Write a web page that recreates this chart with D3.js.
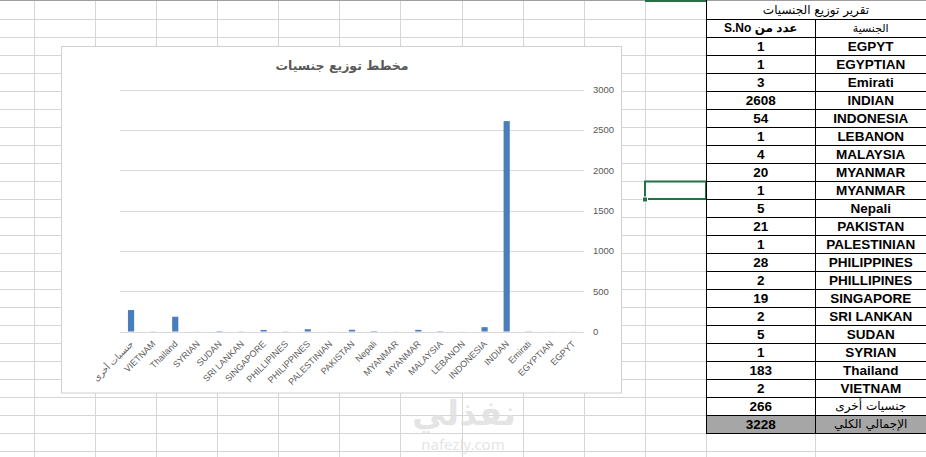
<!DOCTYPE html>
<html><head><meta charset="utf-8">
<script src="https://cdn.jsdelivr.net/npm/d3@7"></script>
<style>
html,body{margin:0;padding:0;background:#fff;}
svg{display:block;}
</style></head>
<body>
<script>
// ---- data (table order) ----
const categories = ["EGPYT","EGYPTIAN","Emirati","INDIAN","INDONESIA","LEBANON","MALAYSIA","MYANMAR","MYANMAR","Nepali","PAKISTAN","PALESTINIAN","PHILIPPINES","PHILLIPINES","SINGAPORE","SRI LANKAN","SUDAN","SYRIAN","Thailand","VIETNAM","جنسيات أخرى"];
const values = [1,1,3,2608,54,1,4,20,1,5,21,1,28,2,19,2,5,1,183,2,266];
const totalLabel = "الإجمالي الكلي";
const totalValue = 3228;
const yTicks = [0,500,1000,1500,2000,2500,3000];
const chartTitle = "مخطط توزيع جنسيات";
const tableTitle = "تقرير توزيع الجنسيات";
const headerCount = "عدد من S.No";
const headerName = "الجنسية";

const W = 926, H = 457;
const svg = d3.select("body").append("svg").attr("width", W).attr("height", H);

// ---- spreadsheet grid ----
const gridColor = "#D6D6D6";
const g = svg.append("g");
const colXs = d3.range(0, 11).map(k => 34.3 + 61.03 * k);
const rowYs = d3.range(1, 26).map(k => 1 + 18 * k);
g.selectAll("line.v").data(colXs).join("line")
  .attr("x1", d => Math.round(d) + 0.5).attr("x2", d => Math.round(d) + 0.5)
  .attr("y1", 0).attr("y2", H).attr("stroke", gridColor);
g.selectAll("line.h").data(rowYs).join("line")
  .attr("x1", 0).attr("x2", 706).attr("y1", d => d + 0.5).attr("y2", d => d + 0.5)
  .attr("stroke", gridColor);
[433, 451].forEach(yy => g.append("line").attr("x1", 706).attr("x2", W).attr("y1", yy + 0.5).attr("y2", yy + 0.5).attr("stroke", gridColor));
g.append("line").attr("x1", 815.5).attr("x2", 815.5).attr("y1", 433).attr("y2", H).attr("stroke", gridColor);
g.append("line").attr("x1", 706.5).attr("x2", 706.5).attr("y1", 433).attr("y2", H).attr("stroke", gridColor);
g.append("line").attr("x1", 0).attr("x2", W).attr("y1", 0.5).attr("y2", 0.5).attr("stroke", "#9E9E9E");
g.append("rect").attr("x", 645).attr("y", 0).attr("width", 61).attr("height", 2).attr("fill", "#217346");

// selected cell
g.append("rect").attr("x", 645).attr("y", 181.5).attr("width", 61).attr("height", 17.5)
  .attr("fill", "none").attr("stroke", "#217346").attr("stroke-width", 2);
g.append("rect").attr("x", 642.5).attr("y", 197).attr("width", 5).attr("height", 5)
  .attr("fill", "#217346").attr("stroke", "#fff").attr("stroke-width", 1);

// ---- watermark ----
g.append("text").attr("x", 464).attr("y", 425).attr("text-anchor", "middle")
  .attr("font-family", "DejaVu Sans, Noto Sans, sans-serif").attr("font-weight", "bold")
  .attr("font-size", 34).attr("fill", "#E0E0E0").attr("fill-opacity", 0.85).text("نفذلي");
g.append("text").attr("x", 463).attr("y", 450).attr("text-anchor", "middle")
  .attr("font-family", "Noto Sans, DejaVu Sans, sans-serif")
  .attr("font-size", 15).attr("fill", "#E0E0E0").attr("fill-opacity", 0.85).text("nafezly.com");

// ---- chart ----
const chart = svg.append("g");
chart.append("rect").attr("x", 61.5).attr("y", 46.5).attr("width", 560).attr("height", 346.5)
  .attr("fill", "#fff").attr("stroke", "#D0D0D0");
chart.append("text").attr("x", 342).attr("y", 70).attr("text-anchor", "middle")
  .attr("font-family", "DejaVu Sans, sans-serif").attr("font-weight", "bold")
  .attr("font-size", 12.5).attr("fill", "#595959").text(chartTitle);

const y = d3.scaleLinear().domain([0, 3000]).range([331.5, 89.5]);
const idx = d3.range(categories.length);
const x = d3.scaleBand().domain(idx.slice().reverse()).range([120, 584]).padding(0);

chart.selectAll("line.grid").data(yTicks).join("line")
  .attr("x1", 120).attr("x2", 584)
  .attr("y1", d => Math.round(y(d)) + 0.5).attr("y2", d => Math.round(y(d)) + 0.5)
  .attr("stroke", "#D9D9D9");

const yAxis = d3.axisRight(y).tickValues(yTicks).tickSize(0).tickPadding(0).tickFormat(d3.format("d"));
const ya = chart.append("g").attr("transform", "translate(593,0)").call(yAxis);
ya.select(".domain").remove();
ya.selectAll("text").attr("font-family", "Liberation Sans, Arial, sans-serif")
  .attr("font-size", 9.5).attr("fill", "#595959");

const bw = x.bandwidth() * 0.28;
chart.selectAll("rect.bar").data(idx).join("rect")
  .attr("class", "bar")
  .attr("x", i => x(i) + x.bandwidth() / 2 - bw / 2)
  .attr("width", bw)
  .attr("y", i => y(values[i]))
  .attr("height", i => y(0) - y(values[i]))
  .attr("fill", "#4A7EBB");

chart.selectAll("text.xl").data(idx).join("text")
  .attr("class", "xl")
  .attr("transform", i => `translate(${x(i) + x.bandwidth() / 2 + 3},${y(0) + 13}) rotate(-45)`)
  .attr("text-anchor", "end")
  .attr("font-family", "Liberation Sans, Arial, DejaVu Sans, sans-serif")
  .attr("font-size", 9).attr("fill", "#595959")
  .text(i => categories[i]);

// ---- table ----
const t = svg.append("g");
const c0 = 706, c1 = 815.5, c2 = 926;
const topY = 1, rh = 18;
const nData = categories.length;
t.append("rect").attr("x", c0).attr("y", topY + rh * (2 + nData)).attr("width", c2 - c0).attr("height", rh)
  .attr("fill", "#A6A6A6");
d3.range(1, nData + 4).forEach(k => {
  t.append("line").attr("x1", c0).attr("x2", c2).attr("y1", topY + rh * k + 0.5).attr("y2", topY + rh * k + 0.5)
    .attr("stroke", "#000");
});
t.append("line").attr("x1", c0 + 0.5).attr("x2", c0 + 0.5).attr("y1", 0).attr("y2", topY + rh * (nData + 3)).attr("stroke", "#000");
t.append("line").attr("x1", c1).attr("x2", c1).attr("y1", topY + rh).attr("y2", topY + rh * (nData + 3)).attr("stroke", "#000");

const cx0 = (c0 + c1) / 2, cx1 = (c1 + c2) / 2;
t.append("text").attr("x", (c0 + c2) / 2).attr("y", topY + rh / 2).attr("dy", "0.35em")
  .attr("text-anchor", "middle").attr("font-family", "DejaVu Sans, sans-serif")
  .attr("font-size", 12).attr("fill", "#000").text(tableTitle);
t.append("text").attr("x", cx0).attr("y", topY + rh * 1.5).attr("dy", "0.35em")
  .attr("text-anchor", "middle").attr("direction", "rtl").style("direction", "rtl")
  .attr("font-family", "Liberation Sans, Arial, DejaVu Sans, sans-serif").attr("font-weight", "bold")
  .attr("font-size", 12).attr("fill", "#000").text(headerCount);
t.append("text").attr("x", cx1).attr("y", topY + rh * 1.5).attr("dy", "0.35em")
  .attr("text-anchor", "middle").attr("font-family", "DejaVu Sans, sans-serif")
  .attr("font-size", 11).attr("fill", "#000").text(headerName);

const rows = idx.map(i => ({n: categories[i], v: values[i]})).concat([{n: totalLabel, v: totalValue}]);
const isAr = s => /[\u0600-\u06FF]/.test(s);
t.selectAll("text.v").data(rows).join("text")
  .attr("x", cx0).attr("y", (d, i) => topY + rh * (2.5 + i)).attr("dy", "0.36em")
  .attr("text-anchor", "middle")
  .attr("font-family", "Liberation Sans, Arial, sans-serif").attr("font-weight", "bold")
  .attr("font-size", 13.5).attr("fill", "#000").text(d => d.v);
t.selectAll("text.n").data(rows).join("text")
  .attr("x", cx1).attr("y", (d, i) => topY + rh * (2.5 + i)).attr("dy", "0.36em")
  .attr("text-anchor", "middle")
  .attr("font-family", d => isAr(d.n) ? "DejaVu Sans, sans-serif" : "Liberation Sans, Arial, sans-serif")
  .attr("font-weight", d => isAr(d.n) ? "normal" : "bold")
  .attr("font-size", d => isAr(d.n) ? 12 : 13.5)
  .attr("fill", "#000").text(d => d.n);
</script>
</body></html>
